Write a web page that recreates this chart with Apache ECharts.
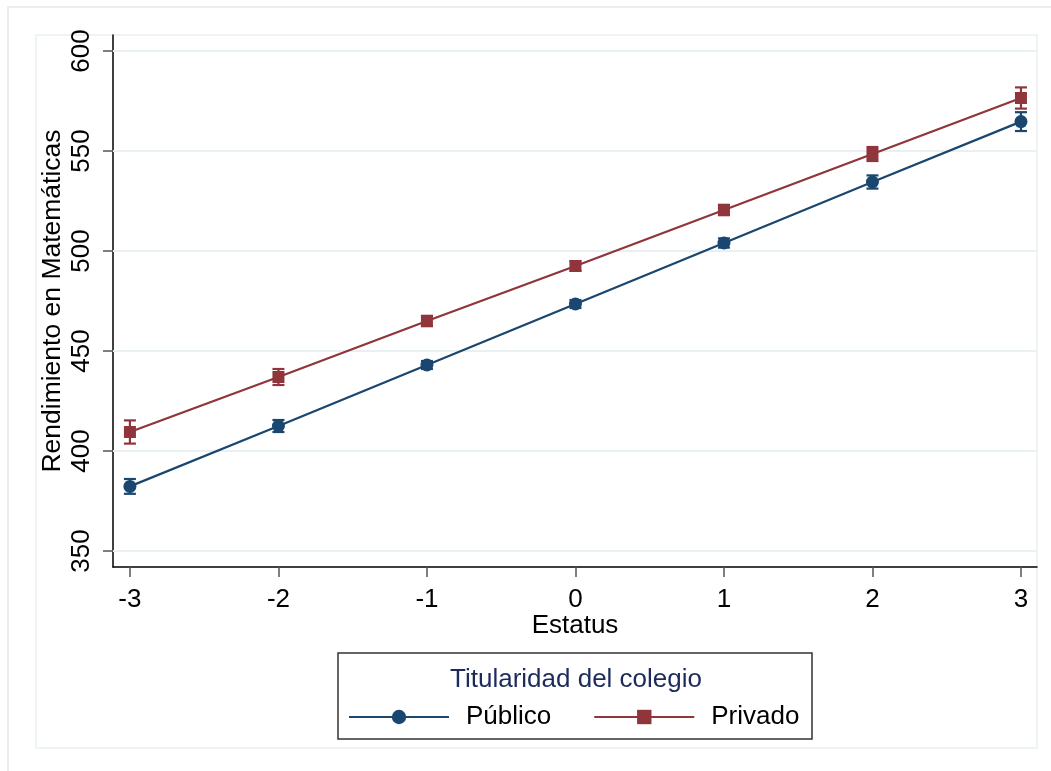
<!DOCTYPE html>
<html>
<head>
<meta charset="utf-8">
<script src="https://cdn.jsdelivr.net/npm/echarts@6/dist/echarts.min.js"></script>
<style>
html,body{margin:0;padding:0;background:#fff;}
#chart{width:1051px;height:771px;}
</style>
</head>
<body>
<div id="chart"></div>
<script>
const estatus = [-3, -2, -1, 0, 1, 2, 3];
const publico = [382.3, 412.5, 443, 473.5, 504, 534.5, 564.7];
const privado = [409.5, 437, 465, 492.5, 520.5, 548.5, 576.5];
const publicoErr = [3.7, 3.0, 2.0, 2.0, 2.3, 3.3, 4.7];
const privadoErr = [5.8, 4.0, 2.6, 2.4, 2.6, 3.5, 5.3];
const yTicks = [350, 400, 450, 500, 550, 600];
const xTicks = [-3, -2, -1, 0, 1, 2, 3];
const seriesNames = ['Público', 'Privado'];
const legendTitle = 'Titularidad del colegio';

const BLUE = '#1a476f';
const RED = '#90353b';
const FONT = 'Liberation Sans, Arial, sans-serif';

function pts(vals) { return estatus.map((x, i) => [x, vals[i]]); }
function errData(vals, errs) { return estatus.map((x, i) => [x, vals[i] - errs[i], vals[i] + errs[i]]); }

function errRender(color) {
  return function (params, api) {
    const x = api.value(0);
    const lo = api.coord([x, api.value(1)]);
    const hi = api.coord([x, api.value(2)]);
    const w = 6;
    const st = { stroke: color, lineWidth: 2.2 };
    return {
      type: 'group',
      children: [
        { type: 'line', shape: { x1: lo[0], y1: lo[1], x2: hi[0], y2: hi[1] }, style: st },
        { type: 'line', shape: { x1: lo[0] - w, y1: lo[1], x2: lo[0] + w, y2: lo[1] }, style: st },
        { type: 'line', shape: { x1: hi[0] - w, y1: hi[1], x2: hi[0] + w, y2: hi[1] }, style: st }
      ]
    };
  };
}

const chart = echarts.init(document.getElementById('chart'), null, { renderer: 'canvas' });
chart.setOption({
  backgroundColor: '#ffffff',
  animation: false,
  textStyle: { fontFamily: FONT },
  graphic: [
    { type: 'rect', z: -10, shape: { x: 8, y: 7, width: 1100, height: 800 }, style: { fill: '#ffffff', stroke: '#e8eef2', lineWidth: 2 } },
    { type: 'rect', z: -9, shape: { x: 36, y: 35, width: 1001, height: 713 }, style: { fill: '#ffffff', stroke: '#eef3f5', lineWidth: 2 } },
    { type: 'rect', z: 5, shape: { x: 338, y: 653, width: 474, height: 86 }, style: { fill: '#ffffff', stroke: '#333333', lineWidth: 1.5 } },
    { type: 'text', z: 6, x: 576, y: 680, style: { text: legendTitle, fill: '#1c2b5a', font: '26px ' + FONT, align: 'center', verticalAlign: 'middle' } }
  ],
  grid: { left: 113, right: 14, top: 35, bottom: 204, containLabel: false },
  xAxis: {
    type: 'value', min: -3.114, max: 3.108,
    name: 'Estatus', nameLocation: 'middle', nameGap: 46, nameMoveOverlap: false,
    nameTextStyle: { fontSize: 26, color: '#000', fontFamily: FONT },
    axisLine: { show: true, onZero: false, lineStyle: { color: '#000', width: 1.5 } },
    axisTick: { show: true, length: 10, customValues: xTicks, lineStyle: { color: '#555', width: 1.5 } },
    axisLabel: { customValues: xTicks, fontSize: 26, color: '#000', margin: 20, fontFamily: FONT },
    splitLine: { show: false }
  },
  yAxis: {
    type: 'value', min: 342, max: 608,
    name: 'Rendimiento en Matemáticas', nameLocation: 'middle', nameGap: 47, nameMoveOverlap: false,
    nameTextStyle: { fontSize: 26.5, color: '#000', fontFamily: FONT },
    axisLine: { show: true, onZero: false, lineStyle: { color: '#000', width: 1.5 } },
    axisTick: { show: true, length: 10, customValues: yTicks, lineStyle: { color: '#555', width: 1.5 } },
    axisLabel: { customValues: yTicks, fontSize: 26, color: '#000', margin: 18, rotate: 90, fontFamily: FONT },
    splitLine: { show: false }
  },
  legend: {
    data: seriesNames,
    left: 343, top: 699,
    itemWidth: 100, itemHeight: 18, itemGap: 42,
    textStyle: { fontSize: 26, color: '#000', fontFamily: FONT, padding: [0, 0, 0, 12] },
    z: 7
  },
  series: [
    {
      type: 'line', name: '_grid', data: [], z: 1, silent: true,
      markLine: {
        silent: true, symbol: 'none', label: { show: false }, z: 1,
        lineStyle: { color: '#e8f0f2', width: 2, type: 'solid' },
        data: yTicks.map(v => ({ yAxis: v }))
      }
    },
    {
      type: 'custom', name: 'errPublico', z: 9, renderItem: errRender(BLUE),
      data: errData(publico, publicoErr), encode: { x: 0, y: [1, 2] }
    },
    {
      type: 'custom', name: 'errPrivado', z: 9, renderItem: errRender(RED),
      data: errData(privado, privadoErr), encode: { x: 0, y: [1, 2] }
    },
    {
      type: 'line', name: seriesNames[0], data: pts(publico), z: 10,
      symbol: 'circle', symbolSize: 13, showAllSymbol: true,
      itemStyle: { color: BLUE }, lineStyle: { color: BLUE, width: 2.3 }
    },
    {
      type: 'line', name: seriesNames[1], data: pts(privado), z: 10,
      symbol: 'rect', symbolSize: 12, showAllSymbol: true,
      itemStyle: { color: RED }, lineStyle: { color: RED, width: 2.3 }
    }
  ]
});
</script>
</body>
</html>
